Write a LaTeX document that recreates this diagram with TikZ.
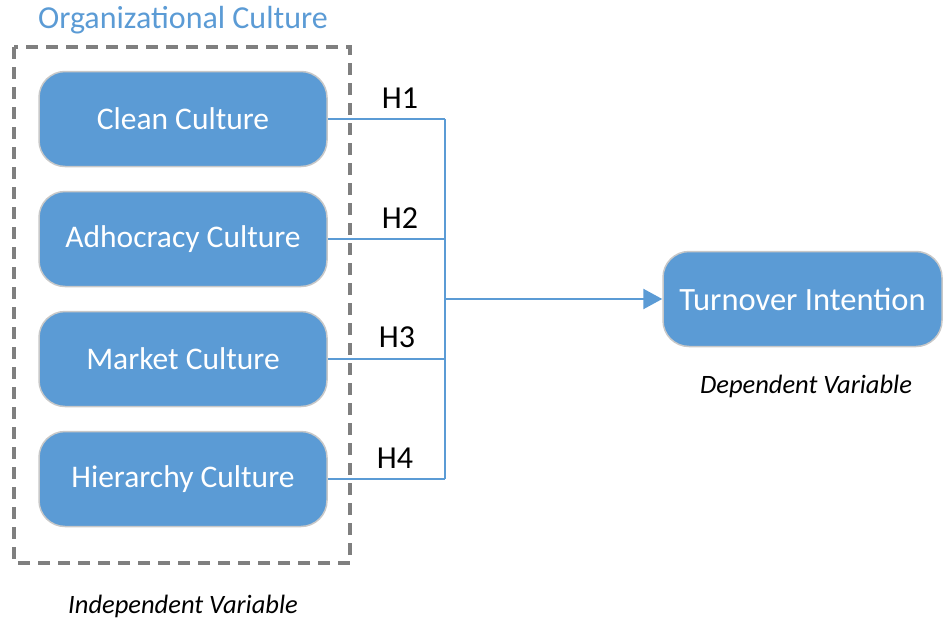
\documentclass[tikz,border=0pt]{standalone}
\usepackage{fontspec}
\setmainfont{Carlito}
\usetikzlibrary{arrows.meta}
\definecolor{boxblue}{HTML}{5B9BD5}
\definecolor{dashgray}{HTML}{7F7F7F}
\definecolor{rimgray}{HTML}{C8C8C8}
\begin{document}
\begin{tikzpicture}[x=1pt,y=-1pt,
  culture/.style={draw=rimgray, line width=1.5pt, fill=boxblue, rounded corners=26pt,
    minimum width=288pt, minimum height=95pt, text=white, inner sep=0pt,
    font=\fontsize{31.5}{36}\selectfont},
  link/.style={draw=boxblue, line width=2.5pt},
  hlabel/.style={font=\fontsize{32}{36}\selectfont, text=black},
  note/.style={font=\fontsize{26.5}{30}\itshape\selectfont, text=black}]
\useasboundingbox (0,0) rectangle (943,621);
\node[font=\fontsize{32}{36}\selectfont, text=boxblue] (title) at (183,20) {Organizational Culture};
\draw[dashgray, line width=3.5pt, dash pattern=on 12pt off 8pt] (14,47) rectangle (350,563);
\node[culture] (c1) at (183,119) {Clean Culture};
\node[culture] (c2) at (183,239) {Adhocracy Culture};
\node[culture] (c3) at (183,359) {Market Culture};
\node[culture] (c4) at (183,479) {Hierarchy Culture};
\node[culture, minimum width=279pt, font=\fontsize{32.5}{36}\selectfont] (ti) at (802.5,299) {Turnover Intention};
\coordinate (j1) at (445,119);
\coordinate (j4) at (445,479);
\coordinate (jm) at (445,299);
\draw[link] (c1.east) -- (j1);
\draw[link] (c2.east) -- (c2.east -| j1);
\draw[link] (c3.east) -- (c3.east -| j1);
\draw[link] (c4.east) -- (j4);
\draw[link] (j1) -- (j4);
\draw[link, -{Triangle[length=19pt,width=20pt]}] (jm) -- (ti.west);
\node[hlabel] (h1) at (400,98) {H1};
\node[hlabel] (h2) at (400,218) {H2};
\node[hlabel] (h3) at (397,337) {H3};
\node[hlabel] (h4) at (395,458) {H4};
\node[note] (dv) at (806,386) {Dependent Variable};
\node[note] (iv) at (183,606) {Independent Variable};
\end{tikzpicture}
\end{document}
